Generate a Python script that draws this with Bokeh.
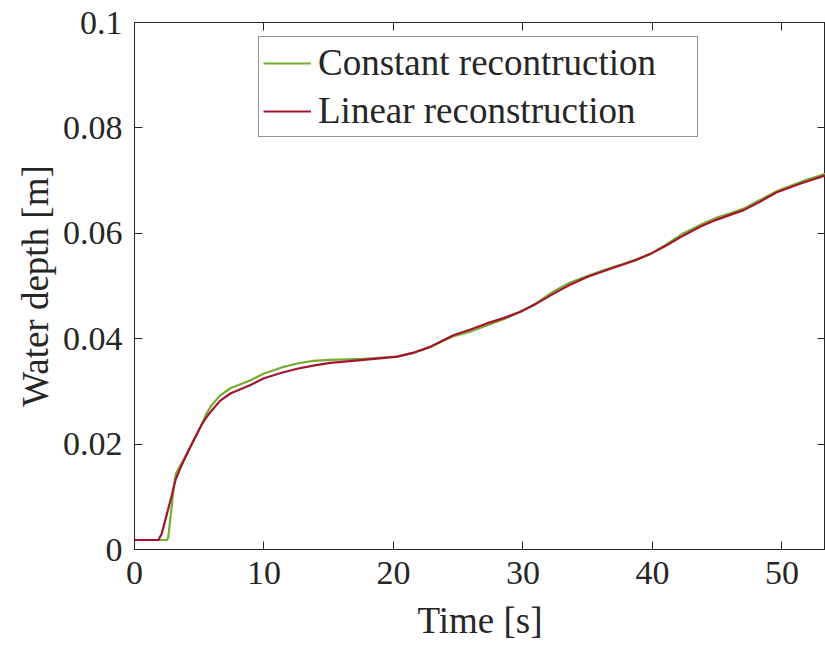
from bokeh.plotting import figure
from bokeh.models import Range1d, LinearAxis, Legend, LegendItem, FixedTicker
from bokeh.embed import file_html
from bokeh.resources import INLINE

# Data
t_const = [0, 2.5, 2.6, 2.75, 2.9, 3.05, 3.2, 3.55, 4.32, 5.1, 5.5, 5.87, 6.6, 7.4, 8.96,
           10, 11.3, 12.56, 13.8, 15.1, 17.7, 20.3, 21.5, 22.9, 24.66, 26, 27.2, 28.5,
           29.8, 31, 32.4, 33.6, 34.96, 36.2, 37.5, 38.7, 39.85, 41, 42.4, 43.7, 44.98,
           46, 47.05, 48.3, 49.6, 51.5, 53.36]
h_const = [0.0018, 0.0018, 0.0022, 0.0055, 0.0088, 0.0122, 0.0144, 0.0160, 0.0195, 0.0233,
           0.0255, 0.0271, 0.0292, 0.0306, 0.0321, 0.0334, 0.0345, 0.0353, 0.0358, 0.0360,
           0.0362, 0.0366, 0.0373, 0.0385, 0.0405, 0.0414, 0.0425, 0.0437, 0.0451, 0.0467,
           0.0490, 0.0506, 0.0519, 0.0530, 0.0540, 0.0550, 0.0561, 0.0578, 0.0600, 0.0616,
           0.0630, 0.0638, 0.0647, 0.0663, 0.0680, 0.0698, 0.0713]

t_lin = [0, 1.85, 2.1, 2.52, 2.85, 3.17, 3.55, 4.32, 5.1, 5.5, 5.87, 6.6, 7.4, 8.96, 10,
         11.3, 12.56, 13.8, 15.1, 17.7, 20.3, 21.5, 22.9, 24.66, 26, 27.2, 28.5, 29.8, 31,
         32.4, 33.6, 34.96, 36.2, 37.5, 38.7, 39.85, 41, 42.4, 43.7, 44.98, 46, 47.05, 48.3,
         49.6, 51.5, 53.36]
h_lin = [0.0018, 0.0018, 0.0030, 0.0069, 0.0100, 0.0132, 0.0155, 0.0195, 0.0233, 0.0249,
         0.0261, 0.0282, 0.0296, 0.0312, 0.0325, 0.0335, 0.0343, 0.0349, 0.0354, 0.0360,
         0.0366, 0.0373, 0.0385, 0.0407, 0.0418, 0.0429, 0.0439, 0.0451, 0.0466, 0.0486,
         0.0502, 0.0517, 0.0528, 0.0539, 0.0549, 0.0561, 0.0576, 0.0596, 0.0613, 0.0626,
         0.0635, 0.0644, 0.0660, 0.0678, 0.0695, 0.0710]

x_ticks = [0, 10, 20, 30, 40, 50]
y_ticks = [0, 0.02, 0.04, 0.06, 0.08, 0.1]
y_tick_labels = {0: "0", 0.02: "0.02", 0.04: "0.04", 0.06: "0.06", 0.08: "0.08", 0.1: "0.1"}

labels = ["Constant recontruction", "Linear reconstruction"]
colors = ["#77AC30", "#A2142F"]

FONT = "Liberation Serif"
TXT = "#262626"

p = figure(width=825, height=645, output_backend="svg", toolbar_location=None,
           x_range=Range1d(0, 53.36), y_range=Range1d(0, 0.1),
           min_border_left=134, min_border_right=0, min_border_top=22, min_border_bottom=96)
p.xgrid.visible = False
p.ygrid.visible = False
p.outline_line_color = TXT
p.outline_line_width = 1
p.background_fill_color = "white"
p.border_fill_color = "white"

r1 = p.line(t_const, h_const, line_color=colors[0], line_width=2.2)
r2 = p.line(t_lin, h_lin, line_color=colors[1], line_width=2.2)

def style(ax):
    ax.axis_line_color = TXT
    ax.major_tick_line_color = TXT
    ax.major_tick_in = 8
    ax.major_tick_out = 0
    ax.minor_tick_line_color = None
    ax.major_label_text_font = FONT
    ax.major_label_text_color = TXT
    ax.major_label_text_font_size = "34px"
    ax.axis_label_text_font = FONT
    ax.axis_label_text_color = TXT
    ax.axis_label_text_font_size = "37px"
    ax.axis_label_text_font_style = "normal"

p.xaxis.ticker = FixedTicker(ticks=x_ticks)
p.yaxis.ticker = FixedTicker(ticks=y_ticks)
p.yaxis.major_label_overrides = y_tick_labels
p.xaxis.axis_label = "Time [s]"
p.yaxis.axis_label = "Water depth [m]"
style(p.xaxis[0])
style(p.yaxis[0])
p.xaxis.major_label_standoff = 12
p.yaxis.major_label_standoff = 12
p.xaxis.axis_label_standoff = 13
p.yaxis.axis_label_standoff = 4

# box-style top and right axes: ticks only
top = LinearAxis(ticker=FixedTicker(ticks=x_ticks))
right = LinearAxis(ticker=FixedTicker(ticks=y_ticks))
style(top)
style(right)
top.major_label_overrides = {t: "" for t in x_ticks}
right.major_label_overrides = {t: "" for t in y_ticks}
top.major_label_standoff = 0
right.major_label_standoff = 0
p.add_layout(top, "above")
p.add_layout(right, "right")

legend = Legend(items=[LegendItem(label=labels[0], renderers=[r1]),
                       LegendItem(label=labels[1], renderers=[r2])],
                location=(124, 412))
legend.label_text_font = FONT
legend.label_text_font_size = "37px"
legend.label_text_color = TXT
legend.glyph_width = 48
legend.glyph_height = 38
legend.label_height = 38
legend.label_width = 375
legend.label_standoff = 7
legend.spacing = 5
legend.padding = 4
legend.margin = 0
legend.border_line_color = TXT
legend.border_line_width = 1
legend.background_fill_alpha = 1
p.add_layout(legend, "center")

open("out.html", "w").write(file_html(p, INLINE))
